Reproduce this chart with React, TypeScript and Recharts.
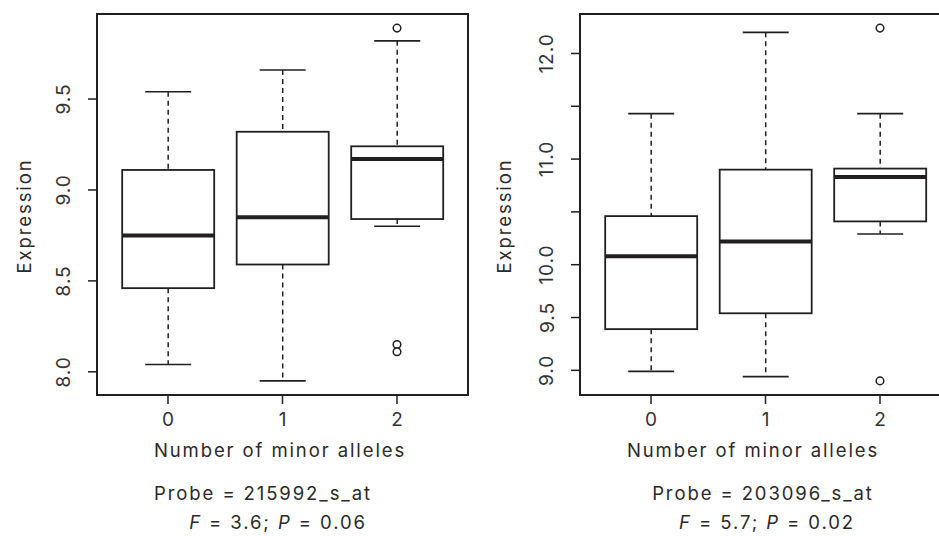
import React from 'react';
import { ComposedChart, Bar, Scatter, XAxis, YAxis, ReferenceArea } from 'recharts';

const groups = [0, 1, 2];

// probe 215992_s_at
const leftLow = [8.04, 7.95, 8.8];
const leftQ1 = [8.46, 8.59, 8.84];
const leftMedian = [8.75, 8.85, 9.17];
const leftQ3 = [9.11, 9.32, 9.24];
const leftHigh = [9.54, 9.66, 9.82];
const leftOutlierGroup = [2, 2, 2];
const leftOutlierValue = [9.89, 8.15, 8.11];
const leftYTicks = [8.0, 8.5, 9.0, 9.5];

// probe 203096_s_at
const rightLow = [8.99, 8.94, 10.29];
const rightQ1 = [9.39, 9.54, 10.41];
const rightMedian = [10.08, 10.22, 10.83];
const rightQ3 = [10.46, 10.9, 10.91];
const rightHigh = [11.43, 12.2, 11.43];
const rightOutlierGroup = [2, 2];
const rightOutlierValue = [12.24, 8.9];
const rightYTicks = [9.0, 9.5, 10.0, 10.5, 11.0, 11.5, 12.0];
const rightHiddenLabels = [10.5, 11.5];

const INK = '#231f20';
const FONT = 'Inter, "Open Sans", sans-serif';

function buildRows(low: number[], q1: number[], med: number[], q3: number[], high: number[]) {
  return groups.map((g, i) => ({
    g,
    low: low[i],
    q1: q1[i],
    med: med[i],
    q3: q3[i],
    high: high[i],
    range: [low[i], high[i]],
  }));
}

function buildOutliers(gs: number[], vs: number[]) {
  return gs.map((g, i) => ({ g, v: vs[i] }));
}

// R style: data range widened by 4% each side
function padded(values: number[]): [number, number] {
  const lo = Math.min(...values);
  const hi = Math.max(...values);
  const r = hi - lo;
  return [lo - 0.04 * r, hi + 0.04 * r];
}

function BoxShape(props: any) {
  const { x, y, width, height, payload } = props;
  if (!payload) return null;
  const top = Math.min(y, y + height);
  const bottom = Math.max(y, y + height);
  const toY = (v: number) => bottom - ((v - payload.low) / (payload.high - payload.low)) * (bottom - top);
  const cx = x + width / 2;
  const cap = width / 4;
  const yQ1 = toY(payload.q1);
  const yQ3 = toY(payload.q3);
  const yMed = toY(payload.med);
  return (
    <g>
      <line x1={cx} x2={cx} y1={top} y2={yQ3} stroke={INK} strokeWidth={1.5} strokeDasharray="5 4" />
      <line x1={cx} x2={cx} y1={yQ1} y2={bottom} stroke={INK} strokeWidth={1.5} strokeDasharray="5 4" />
      <line x1={cx - cap} x2={cx + cap} y1={top} y2={top} stroke={INK} strokeWidth={1.6} />
      <line x1={cx - cap} x2={cx + cap} y1={bottom} y2={bottom} stroke={INK} strokeWidth={1.6} />
      <rect x={x} y={yQ3} width={width} height={yQ1 - yQ3} fill="#fff" stroke={INK} strokeWidth={1.8} />
      <line x1={x} x2={x + width} y1={yMed} y2={yMed} stroke={INK} strokeWidth={4} />
    </g>
  );
}

function OutlierShape(props: any) {
  const { cx, cy } = props;
  return <circle cx={cx} cy={cy} r={3.8} fill="#fff" stroke={INK} strokeWidth={1.5} />;
}

function RotatedTick(props: any) {
  const { x, y, payload, hidden } = props;
  if (hidden && hidden.includes(payload.value)) return null;
  return (
    <text
      x={x}
      y={y}
      transform={`rotate(-90 ${x} ${y})`}
      textAnchor="middle"
      dominantBaseline="central"
      fill="#333"
      fontSize={19}
      letterSpacing={1}
      fontFamily={FONT}
    >
      {payload.value.toFixed(1)}
    </text>
  );
}

const xDomain: [number, number] = [-0.62, 2.62];

interface PanelProps {
  left: number;
  rows: ReturnType<typeof buildRows>;
  outliers: { g: number; v: number }[];
  yTicks: number[];
  hidden: number[];
}

function Panel({ left, rows, outliers, yTicks, hidden }: PanelProps) {
  const dom = padded([...rows.map((r) => r.low), ...rows.map((r) => r.high), ...outliers.map((o) => o.v)]);
  return (
    <div style={{ position: 'absolute', left, top: 0 }}>
      <ComposedChart
        width={472}
        height={440}
        data={rows}
        margin={{ top: 14, right: 4, bottom: 0, left: 0 }}
        barCategoryGap="10%"
      >
        <XAxis
          type="number"
          dataKey="g"
          domain={xDomain}
          ticks={groups}
          allowDataOverflow
          height={45}
          axisLine={false}
          tickLine={{ stroke: INK, strokeWidth: 1.5 }}
          tickSize={9}
          tickMargin={9}
          tick={{ fill: '#333', fontSize: 19, fontFamily: FONT }}
        />
        <YAxis
          type="number"
          domain={dom}
          ticks={yTicks}
          allowDataOverflow
          width={97}
          axisLine={false}
          tickLine={{ stroke: INK, strokeWidth: 1.5 }}
          tickSize={9}
          tickMargin={24}
          tick={<RotatedTick hidden={hidden} />}
        />
        <ReferenceArea
          x1={xDomain[0]}
          x2={xDomain[1]}
          y1={dom[0]}
          y2={dom[1]}
          fill="none"
          fillOpacity={0}
          stroke={INK}
          strokeWidth={2}
          ifOverflow="visible"
        />
        <Bar dataKey="range" shape={<BoxShape />} isAnimationActive={false} />
        <Scatter data={outliers} dataKey="v" shape={<OutlierShape />} isAnimationActive={false} />
      </ComposedChart>
    </div>
  );
}

const leftRows = buildRows(leftLow, leftQ1, leftMedian, leftQ3, leftHigh);
const rightRows = buildRows(rightLow, rightQ1, rightMedian, rightQ3, rightHigh);
const leftOutliers = buildOutliers(leftOutlierGroup, leftOutlierValue);
const rightOutliers = buildOutliers(rightOutlierGroup, rightOutlierValue);

export default function App() {
  const t = {
    fill: '#2a2a2a',
    fontSize: 18.5,
    letterSpacing: 1.9,
    fontFamily: FONT,
    textAnchor: 'middle' as const,
  };
  return (
    <div
      style={{
        position: 'absolute',
        left: 0,
        top: 0,
        width: 939,
        height: 536,
        overflow: 'hidden',
        background: '#fff',
      }}
    >
      <Panel left={0} rows={leftRows} outliers={leftOutliers} yTicks={leftYTicks} hidden={[]} />
      <Panel left={483} rows={rightRows} outliers={rightOutliers} yTicks={rightYTicks} hidden={rightHiddenLabels} />
      <svg width={939} height={536} style={{ position: 'absolute', left: 0, top: 0, pointerEvents: 'none' }}>
        <text {...t} x={24} y={216} transform="rotate(-90 24 216)" dominantBaseline="central">
          Expression
        </text>
        <text {...t} x={504} y={216} transform="rotate(-90 504 216)" dominantBaseline="central">
          Expression
        </text>
        <text {...t} x={280} y={457}>Number of minor alleles</text>
        <text {...t} x={263} y={500}>Probe = 215992_s_at</text>
        <text {...t} x={278} y={529}>
          <tspan fontStyle="italic">F</tspan> = 3.6; <tspan fontStyle="italic">P</tspan> = 0.06
        </text>
        <text {...t} x={753} y={457}>Number of minor alleles</text>
        <text {...t} x={763} y={500}>Probe = 203096_s_at</text>
        <text {...t} x={767} y={529}>
          <tspan fontStyle="italic">F</tspan> = 5.7; <tspan fontStyle="italic">P</tspan> = 0.02
        </text>
      </svg>
    </div>
  );
}
